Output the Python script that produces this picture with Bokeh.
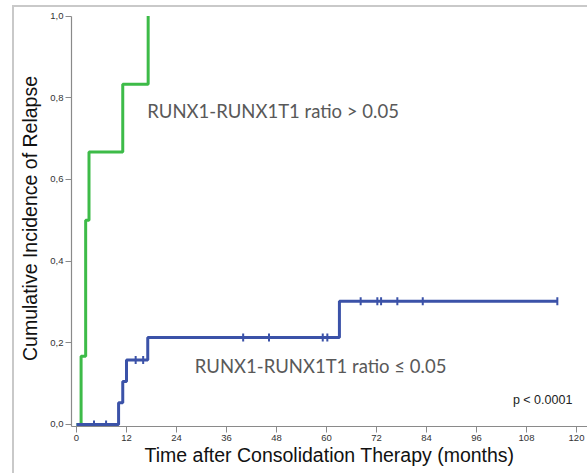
import numpy as np
from bokeh.plotting import figure
from bokeh.models import FixedTicker, CustomJSTickFormatter
from bokeh.layouts import column
from bokeh.core.properties import value
from bokeh.embed import file_html
from bokeh.resources import INLINE

# ---- data ----
high_time = [0, 1.1, 2.2, 3.0, 11.1, 17.2]
high_cir = [0, 0.167, 0.5, 0.667, 0.833, 1.0]

low_time = [0, 10.1, 11.1, 12.0, 17.1, 63.1, 115.4]
low_cir = [0, 0.053, 0.105, 0.158, 0.213, 0.302, 0.302]
low_censor_time = [4.2, 7.1, 14.2, 16.0, 40.0, 46.2, 59.1, 60.2,
                   68.2, 72.2, 73.1, 77.0, 83.1, 115.4]

x_ticks = [0, 12, 24, 36, 48, 60, 72, 84, 96, 108, 120]
y_ticks = [0.0, 0.2, 0.4, 0.6, 0.8, 1.0]

label_high = "RUNX1-RUNX1T1 ratio > 0.05"
label_low = "RUNX1-RUNX1T1 ratio \u2264 0.05"
p_text = "p < 0.0001"
x_title = "Time after Consolidation Therapy (months)"
y_title = "Cumulative Incidence of Relapse"

# censor heights follow the step curve
idx = np.searchsorted(np.array(low_time), np.array(low_censor_time), side="right") - 1
low_censor_cir = [low_cir[i] for i in idx]

# ---- figure ----
p = figure(width=573, height=466, output_backend="svg", toolbar_location=None,
           x_range=(-1.2, 122.64), y_range=(-0.0049, 1.0137),
           min_border_left=57, min_border_right=0, min_border_top=3,
           min_border_bottom=47)
p.outline_line_color = None
p.xgrid.visible = False
p.ygrid.visible = False
p.background_fill_color = "white"
p.border_fill_color = "white"

GREEN = "#3dbb48"
BLUE = "#3b52a8"

p.step(high_time, high_cir, mode="after", line_color=GREEN, line_width=3)
p.step(low_time, low_cir, mode="after", line_color=BLUE, line_width=3)
p.scatter(low_censor_time, low_censor_cir, marker="dash", angle=np.pi / 2,
          size=8, line_color=BLUE, line_width=2)

# annotations
p.text(x=[17.0], y=[0.767], text=[label_high], text_font=value("Lato"),
       text_font_size="18.5px", text_color="#595959", text_baseline="alphabetic")
p.text(x=[28.4], y=[0.143], text=[label_low], text_font=value("Lato"),
       text_font_size="18.5px", text_color="#595959", text_baseline="alphabetic")
p.text(x=[119.0], y=[0.061], text=[p_text], text_font=value("Liberation Sans"),
       text_font_size="12.5px", text_color="#222222", text_align="right",
       text_baseline="alphabetic")

# axes
for ax in (p.xaxis[0], p.yaxis[0]):
    ax.axis_line_color = "#8a8a8a"
    ax.axis_line_width = 1.2
    ax.major_tick_line_color = "#8a8a8a"
    ax.major_tick_out = 6
    ax.major_tick_in = 0
    ax.minor_tick_line_color = None
    ax.major_label_text_font = "Liberation Sans"
    ax.major_label_text_font_size = "9.5px"
    ax.major_label_text_color = "#333333"
    ax.major_label_standoff = 2
    ax.axis_label_text_font = "Liberation Sans"
    ax.axis_label_text_font_size = "19.5px"
    ax.axis_label_text_font_style = "normal"
    ax.axis_label_text_color = "#111111"

p.xaxis.ticker = FixedTicker(ticks=x_ticks)
p.yaxis.ticker = FixedTicker(ticks=y_ticks)
p.yaxis.formatter = CustomJSTickFormatter(code="return tick.toFixed(1).replace('.', ',');")
p.yaxis.bounds = (-0.0049, 1.0)
p.xaxis.axis_label = x_title
p.yaxis.axis_label = y_title
p.xaxis.axis_label_standoff = 0
p.yaxis.axis_label_standoff = 6

layout = column(p, margin=(5, 0, 0, 12),
                styles={"border-top": "2px solid #c9c9c9",
                        "border-left": "2px solid #c9c9c9"})

open("out.html", "w").write(file_html(layout, INLINE))
